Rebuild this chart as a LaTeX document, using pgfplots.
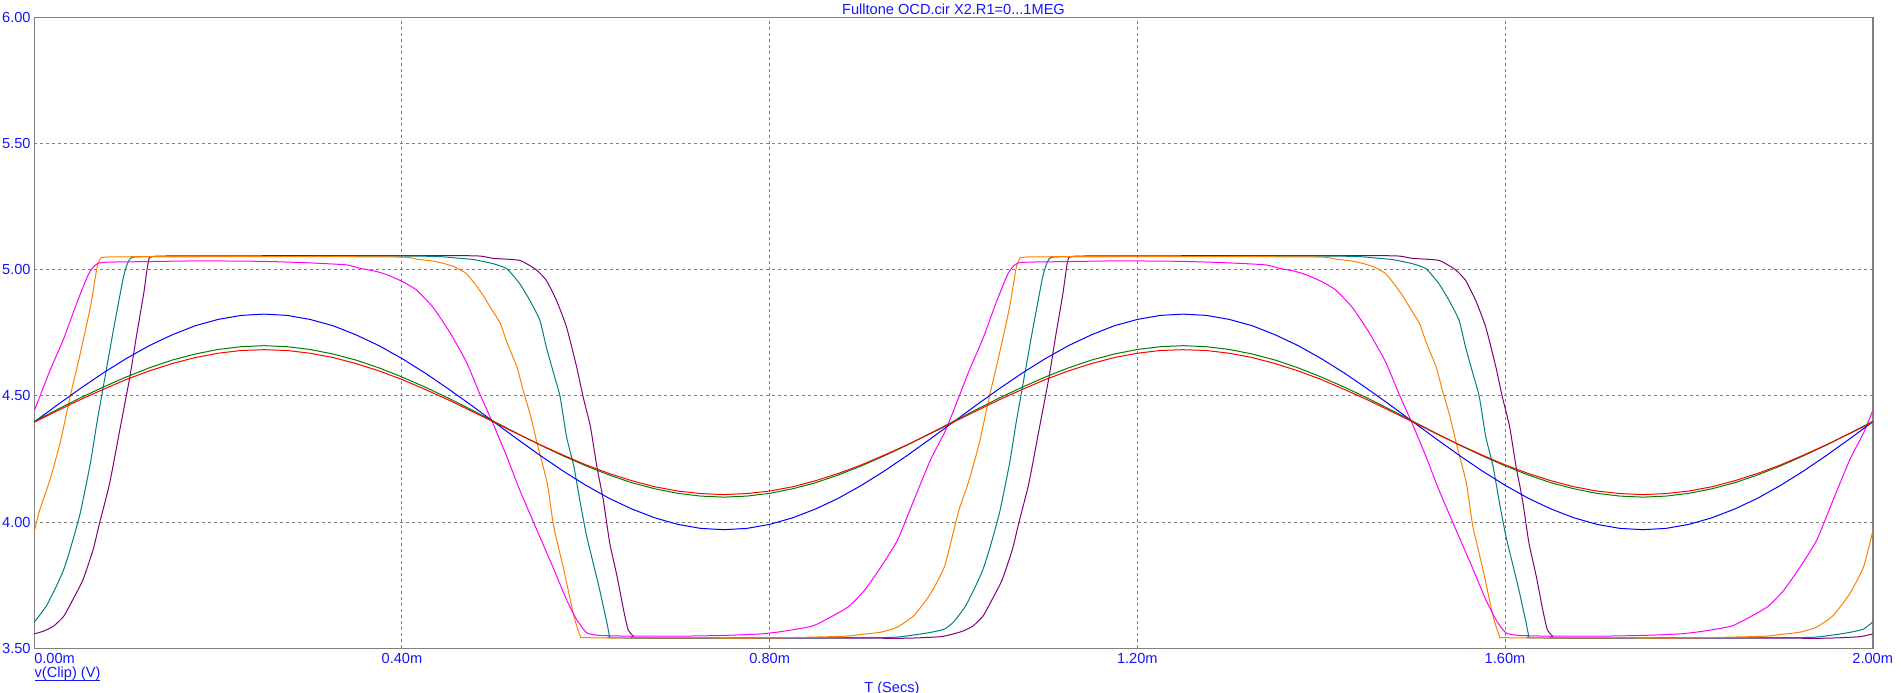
\documentclass[border=0pt]{standalone}
\usepackage{pgfplots}
\pgfplotsset{compat=1.18}
\usepackage{pgfplotstable}
\usepackage{fontspec}
\setmainfont{Liberation Sans}
\newcommand\ff{\fontsize{7.3pt}{8.8pt}\selectfont}
\newcommand\ul[1]{{\setbox0\hbox{#1}\rlap{\rule[-1.6pt]{\wd0}{0.5pt}}\box0}}
\definecolor{cRed}{RGB}{255,0,0}
\definecolor{cGreen}{RGB}{0,128,0}
\definecolor{cBlue}{RGB}{0,0,255}
\definecolor{cMag}{RGB}{255,0,255}
\definecolor{cOrange}{RGB}{255,128,0}
\definecolor{cTeal}{RGB}{0,128,128}
\definecolor{cPurple}{RGB}{128,0,128}
\definecolor{cTxt}{RGB}{20,20,255}

\pgfplotstableread{
t v
0.000 4.396
0.025 4.441
0.050 4.485
0.075 4.526
0.100 4.565
0.125 4.599
0.150 4.628
0.175 4.652
0.200 4.669
0.225 4.680
0.250 4.683
0.275 4.680
0.300 4.669
0.325 4.652
0.350 4.628
0.375 4.599
0.400 4.565
0.425 4.526
0.450 4.485
0.475 4.441
0.500 4.396
0.525 4.351
0.550 4.307
0.575 4.266
0.600 4.227
0.625 4.193
0.650 4.164
0.675 4.140
0.700 4.123
0.725 4.113
0.750 4.109
0.775 4.113
0.800 4.123
0.825 4.140
0.850 4.164
0.875 4.193
0.900 4.227
0.925 4.266
0.950 4.307
0.975 4.351
1.000 4.396
1.025 4.441
1.050 4.485
1.075 4.526
1.100 4.565
1.125 4.599
1.150 4.628
1.175 4.652
1.200 4.669
1.225 4.680
1.250 4.683
1.275 4.680
1.300 4.669
1.325 4.652
1.350 4.628
1.375 4.599
1.400 4.565
1.425 4.526
1.450 4.485
1.475 4.441
1.500 4.396
1.525 4.351
1.550 4.307
1.575 4.266
1.600 4.227
1.625 4.193
1.650 4.164
1.675 4.140
1.700 4.123
1.725 4.113
1.750 4.109
1.775 4.113
1.800 4.123
1.825 4.140
1.850 4.164
1.875 4.193
1.900 4.227
1.925 4.266
1.950 4.307
1.975 4.351
2.000 4.396
}\redtab

\pgfplotstableread{
t v
0.000 4.399
0.025 4.446
0.050 4.492
0.075 4.535
0.100 4.575
0.125 4.611
0.150 4.642
0.175 4.666
0.200 4.684
0.225 4.695
0.250 4.699
0.275 4.695
0.300 4.684
0.325 4.666
0.350 4.642
0.375 4.611
0.400 4.575
0.425 4.535
0.450 4.492
0.475 4.446
0.500 4.399
0.525 4.352
0.550 4.306
0.575 4.263
0.600 4.223
0.625 4.187
0.650 4.156
0.675 4.132
0.700 4.114
0.725 4.103
0.750 4.099
0.775 4.103
0.800 4.114
0.825 4.132
0.850 4.156
0.875 4.187
0.900 4.223
0.925 4.263
0.950 4.306
0.975 4.352
1.000 4.399
1.025 4.446
1.050 4.492
1.075 4.535
1.100 4.575
1.125 4.611
1.150 4.642
1.175 4.666
1.200 4.684
1.225 4.695
1.250 4.699
1.275 4.695
1.300 4.684
1.325 4.666
1.350 4.642
1.375 4.611
1.400 4.575
1.425 4.535
1.450 4.492
1.475 4.446
1.500 4.399
1.525 4.352
1.550 4.306
1.575 4.263
1.600 4.223
1.625 4.187
1.650 4.156
1.675 4.132
1.700 4.114
1.725 4.103
1.750 4.099
1.775 4.103
1.800 4.114
1.825 4.132
1.850 4.156
1.875 4.187
1.900 4.223
1.925 4.263
1.950 4.306
1.975 4.352
2.000 4.399
}\greentab

\pgfplotstableread{
t v
0.000 4.397
0.025 4.464
0.050 4.529
0.075 4.591
0.100 4.648
0.125 4.699
0.150 4.742
0.175 4.778
0.200 4.803
0.225 4.819
0.250 4.824
0.275 4.819
0.300 4.803
0.325 4.778
0.350 4.742
0.375 4.699
0.400 4.648
0.425 4.591
0.450 4.529
0.475 4.464
0.500 4.397
0.525 4.330
0.550 4.265
0.575 4.203
0.600 4.146
0.625 4.095
0.650 4.052
0.675 4.017
0.700 3.991
0.725 3.975
0.750 3.970
0.775 3.975
0.800 3.991
0.825 4.017
0.850 4.052
0.875 4.095
0.900 4.146
0.925 4.203
0.950 4.265
0.975 4.330
1.000 4.397
1.025 4.464
1.050 4.529
1.075 4.591
1.100 4.648
1.125 4.699
1.150 4.742
1.175 4.778
1.200 4.803
1.225 4.819
1.250 4.824
1.275 4.819
1.300 4.803
1.325 4.778
1.350 4.742
1.375 4.699
1.400 4.648
1.425 4.591
1.450 4.529
1.475 4.464
1.500 4.397
1.525 4.330
1.550 4.265
1.575 4.203
1.600 4.146
1.625 4.095
1.650 4.052
1.675 4.017
1.700 3.991
1.725 3.975
1.750 3.970
1.775 3.975
1.800 3.991
1.825 4.017
1.850 4.052
1.875 4.095
1.900 4.146
1.925 4.203
1.950 4.265
1.975 4.330
2.000 4.397
}\bluetab

\pgfplotstableread{
t v
0.000 4.441
0.017 4.600
0.032 4.727
0.046 4.866
0.058 4.975
0.064 5.010
0.070 5.026
0.080 5.030
0.120 5.032
0.180 5.035
0.250 5.033
0.300 5.027
0.340 5.019
0.355 5.005
0.370 4.995
0.383 4.981
0.400 4.954
0.416 4.919
0.434 4.850
0.452 4.752
0.470 4.635
0.485 4.505
0.499 4.391
0.514 4.260
0.528 4.128
0.546 3.975
0.565 3.815
0.579 3.693
0.590 3.614
0.601 3.561
0.615 3.551
0.650 3.548
0.700 3.548
0.750 3.551
0.790 3.557
0.812 3.566
0.848 3.590
0.885 3.663
0.903 3.729
0.921 3.822
0.939 3.928
0.957 4.088
0.975 4.247
0.990 4.353
1.000 4.441
1.017 4.600
1.032 4.727
1.046 4.866
1.058 4.975
1.064 5.010
1.070 5.026
1.080 5.030
1.120 5.032
1.180 5.035
1.250 5.033
1.300 5.027
1.340 5.019
1.355 5.005
1.370 4.995
1.383 4.981
1.400 4.954
1.416 4.919
1.434 4.850
1.452 4.752
1.470 4.635
1.485 4.505
1.499 4.391
1.514 4.260
1.528 4.128
1.546 3.975
1.565 3.815
1.579 3.693
1.590 3.614
1.601 3.561
1.615 3.551
1.650 3.548
1.700 3.548
1.750 3.551
1.790 3.557
1.812 3.566
1.848 3.590
1.885 3.663
1.903 3.729
1.921 3.822
1.939 3.928
1.957 4.088
1.975 4.247
1.990 4.353
2.000 4.441
}\magtab

\pgfplotstableread{
t v
0.000 3.963
0.006 4.049
0.017 4.167
0.028 4.312
0.039 4.497
0.050 4.668
0.061 4.852
0.068 5.004
0.071 5.037
0.077 5.050
0.150 5.052
0.300 5.052
0.400 5.050
0.416 5.042
0.434 5.034
0.445 5.025
0.456 5.013
0.463 5.000
0.470 4.985
0.478 4.950
0.488 4.900
0.496 4.852
0.507 4.787
0.514 4.714
0.525 4.615
0.532 4.520
0.540 4.420
0.547 4.312
0.558 4.154
0.565 3.983
0.576 3.812
0.587 3.627
0.594 3.548
0.600 3.542
0.700 3.541
0.800 3.541
0.866 3.546
0.887 3.549
0.900 3.555
0.921 3.564
0.939 3.584
0.957 3.630
0.975 3.716
0.990 3.822
1.000 3.963
1.006 4.049
1.017 4.167
1.028 4.312
1.039 4.497
1.050 4.668
1.061 4.852
1.068 5.004
1.071 5.037
1.077 5.050
1.150 5.052
1.300 5.052
1.400 5.050
1.416 5.042
1.434 5.034
1.445 5.025
1.456 5.013
1.463 5.000
1.470 4.985
1.478 4.950
1.488 4.900
1.496 4.852
1.507 4.787
1.514 4.714
1.525 4.615
1.532 4.520
1.540 4.420
1.547 4.312
1.558 4.154
1.565 3.983
1.576 3.812
1.587 3.627
1.594 3.548
1.600 3.542
1.700 3.541
1.800 3.541
1.866 3.546
1.887 3.549
1.900 3.555
1.921 3.564
1.939 3.584
1.957 3.630
1.975 3.716
1.990 3.822
2.000 3.963
}\orangetab

\pgfplotstableread{
t v
0.000 3.604
0.013 3.667
0.024 3.746
0.032 3.812
0.039 3.891
0.050 4.036
0.061 4.233
0.068 4.391
0.077 4.576
0.086 4.760
0.097 4.971
0.102 5.030
0.108 5.050
0.150 5.052
0.400 5.054
0.441 5.052
0.460 5.046
0.478 5.040
0.499 5.024
0.514 5.004
0.528 4.945
0.539 4.879
0.550 4.800
0.557 4.694
0.565 4.589
0.572 4.497
0.579 4.339
0.587 4.220
0.594 4.075
0.601 3.943
0.608 3.838
0.615 3.733
0.623 3.600
0.626 3.548
0.632 3.541
0.800 3.541
0.930 3.543
0.957 3.553
0.975 3.563
0.990 3.576
1.000 3.604
1.013 3.667
1.024 3.746
1.032 3.812
1.039 3.891
1.050 4.036
1.061 4.233
1.068 4.391
1.077 4.576
1.086 4.760
1.097 4.971
1.102 5.030
1.108 5.050
1.150 5.052
1.400 5.054
1.441 5.052
1.460 5.046
1.478 5.040
1.499 5.024
1.514 5.004
1.528 4.945
1.539 4.879
1.550 4.800
1.557 4.694
1.565 4.589
1.572 4.497
1.579 4.339
1.587 4.220
1.594 4.075
1.601 3.943
1.608 3.838
1.615 3.733
1.623 3.600
1.626 3.548
1.632 3.541
1.800 3.541
1.930 3.543
1.957 3.553
1.975 3.563
1.990 3.576
2.000 3.604
}\tealtab

\pgfplotstableread{
t v
0.000 3.557
0.010 3.568
0.021 3.588
0.032 3.627
0.042 3.693
0.053 3.772
0.064 3.891
0.071 3.996
0.082 4.154
0.093 4.365
0.104 4.576
0.111 4.734
0.119 4.905
0.124 5.030
0.130 5.053
0.200 5.055
0.447 5.056
0.485 5.054
0.499 5.045
0.528 5.037
0.546 5.000
0.557 4.958
0.568 4.879
0.579 4.773
0.590 4.615
0.597 4.497
0.605 4.378
0.612 4.220
0.619 4.088
0.626 3.917
0.634 3.785
0.641 3.653
0.646 3.574
0.652 3.548
0.660 3.541
0.900 3.540
0.950 3.540
0.986 3.546
1.000 3.557
1.010 3.568
1.021 3.588
1.032 3.627
1.042 3.693
1.053 3.772
1.064 3.891
1.071 3.996
1.082 4.154
1.093 4.365
1.104 4.576
1.111 4.734
1.119 4.905
1.124 5.030
1.130 5.053
1.200 5.055
1.447 5.056
1.485 5.054
1.499 5.045
1.528 5.037
1.546 5.000
1.557 4.958
1.568 4.879
1.579 4.773
1.590 4.615
1.597 4.497
1.605 4.378
1.612 4.220
1.619 4.088
1.626 3.917
1.634 3.785
1.641 3.653
1.646 3.574
1.652 3.548
1.660 3.541
1.900 3.540
1.950 3.540
1.986 3.546
2.000 3.557
}\purpletab

\begin{document}
\begin{tikzpicture}
\path[use as bounding box] (0,0) rectangle (950.5pt,346pt);
\begin{axis}[
  at={(17.15pt,21.85pt)}, anchor=south west,
  scale only axis, width=919.2pt, height=315.5pt,
  xmin=0, xmax=2, ymin=3.5, ymax=6,
  xtick={0,0.4,0.8,1.2,1.6,2.0},
  xticklabels={\makebox[0pt][l]{0.00m},0.40m,0.80m,1.20m,1.60m,2.00m},
  ytick={3.5,4,4.5,5,5.5,6},
  yticklabels={3.50,4.00,4.50,5.00,5.50,6.00},
  major tick length=0pt,
  xticklabel style={font=\ff, text=cTxt, anchor=north, inner sep=0pt, yshift=-2.35pt},
  yticklabel style={font=\ff, text=cTxt, anchor=east, inner sep=0pt, xshift=-1.65pt},
  grid=major,
  major grid style={draw=gray, line width=0.5pt, dash pattern=on 1.5pt off 1.5pt},
  axis line style={draw=gray, line width=0.8pt},
  clip mode=individual,
  every axis plot/.append style={line width=0.5pt, mark=none},
]
\addplot[cPurple, smooth, tension=0.3] table[x=t,y=v] {\purpletab};
\addplot[cTeal, smooth, tension=0.3] table[x=t,y=v] {\tealtab};
\addplot[cOrange, smooth, tension=0.3] table[x=t,y=v] {\orangetab};
\addplot[cMag, smooth, tension=0.3] table[x=t,y=v] {\magtab};
\addplot[cBlue] table[x=t,y=v] {\bluetab};
\addplot[cGreen] table[x=t,y=v] {\greentab};
\addplot[cRed] table[x=t,y=v] {\redtab};
\node[font=\ff, text=cTxt, anchor=base, inner sep=0pt] at ([yshift=1.65pt]rel axis cs:0.5,1) {Fulltone OCD.cir X2.R1=0...1MEG};
\node[font=\ff, text=cTxt, anchor=base west, inner sep=0pt] at ([yshift=-14.5pt]rel axis cs:0,0) {\color{cTxt}\ul{v(Clip) (V)}};
\node[font=\ff, text=cTxt, anchor=base, inner sep=0pt] at ([yshift=-21.85pt]axis cs:0.933,3.5) {T (Secs)};
\end{axis}
\end{tikzpicture}
\end{document}
